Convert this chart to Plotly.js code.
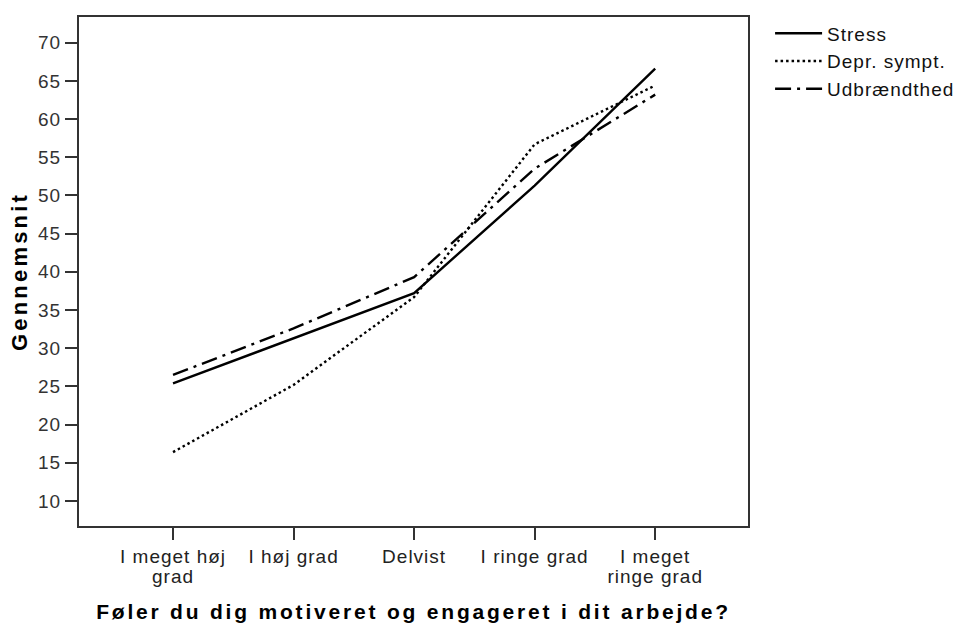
<!DOCTYPE html>
<html>
<head>
<meta charset="utf-8">
<script src="https://cdn.plot.ly/plotly-3.0.1.min.js"></script>
<style>
body{margin:0;background:#fff;}
#chart{width:965px;height:626px;}
.xtitle { letter-spacing: 2.8px; }
.ytitle { letter-spacing: 3.2px; }
.xtick text, .ytick text, .legendtext { letter-spacing: 1px; }
</style>
</head>
<body>
<div id="chart"></div>
<script>
var categories = ["I meget høj<br>grad", "I høj grad", "Delvist", "I ringe grad", "I meget<br>ringe grad"];
var stress = [25.4, 31.3, 37.2, 51.3, 66.6];
var depr = [16.4, 25.2, 36.7, 56.7, 64.4];
var udbr = [26.5, 32.6, 39.3, 53.5, 63.2];
var seriesNames = ["Stress", "Depr. sympt.", "Udbrændthed"];
var yTicks = [10, 15, 20, 25, 30, 35, 40, 45, 50, 55, 60, 65, 70];

var xIdx = categories.map(function(_, i){ return i; });
var traces = [
  {x: xIdx, y: stress, name: seriesNames[0], mode: "lines", line: {color: "#000", width: 2.4, dash: "solid"}},
  {x: xIdx, y: depr, name: seriesNames[1], mode: "lines", line: {color: "#000", width: 2.4, dash: "2.5px,3px"}},
  {x: xIdx, y: udbr, name: seriesNames[2], mode: "lines", line: {color: "#000", width: 2.4, dash: "16px,6px,3px,6px"}}
];

var FONT = "Liberation Sans, Arial, sans-serif";
var layout = {
  width: 965, height: 626,
  margin: {l: 79, r: 217, t: 17, b: 100, autoexpand: false},
  paper_bgcolor: "#fff", plot_bgcolor: "#fff",
  font: {family: FONT, color: "#222", size: 19},
  showlegend: true,
  legend: {x: 1.033, y: 1.005, xanchor: "left", yanchor: "top", itemwidth: 47,
           font: {family: FONT, size: 19, color: "#111"}, bgcolor: "rgba(0,0,0,0)", tracegroupgap: 0},
  xaxis: {
    range: [-0.78, 4.77],
    tickmode: "array", tickvals: xIdx, ticktext: categories,
    ticks: "outside", ticklen: 12, tickwidth: 2, tickcolor: "#333",
    showline: true, linecolor: "#333", linewidth: 2, mirror: true,
    showgrid: false, zeroline: false,
    tickfont: {family: FONT, size: 19, color: "#222"},
    title: {text: "<b>Føler du dig motiveret og engageret i dit arbejde?</b>", font: {family: FONT, size: 21, color: "#000"}, standoff: 14}
  },
  yaxis: {
    range: [6.73, 73.36],
    tickmode: "array", tickvals: yTicks,
    ticks: "outside", ticklen: 12, tickwidth: 2, tickcolor: "#333",
    showline: true, linecolor: "#333", linewidth: 2, mirror: true,
    showgrid: false, zeroline: false,
    tickfont: {family: FONT, size: 19, color: "#333"},
    title: {text: "<b>Gennemsnit</b>", font: {family: FONT, size: 22, color: "#000"}, standoff: 4}
  }
};
Plotly.newPlot("chart", traces, layout, {displayModeBar: false, staticPlot: true}).then(function(gd){
  // tighter line spacing for the two-line category labels
  gd.querySelectorAll(".xtick text tspan.line").forEach(function(t){
    var dy = t.getAttribute("dy");
    if (dy && parseFloat(dy) > 0) t.setAttribute("dy", (parseFloat(dy) * 1.05 / 1.3) + "em");
  });
});
</script>
</body>
</html>
